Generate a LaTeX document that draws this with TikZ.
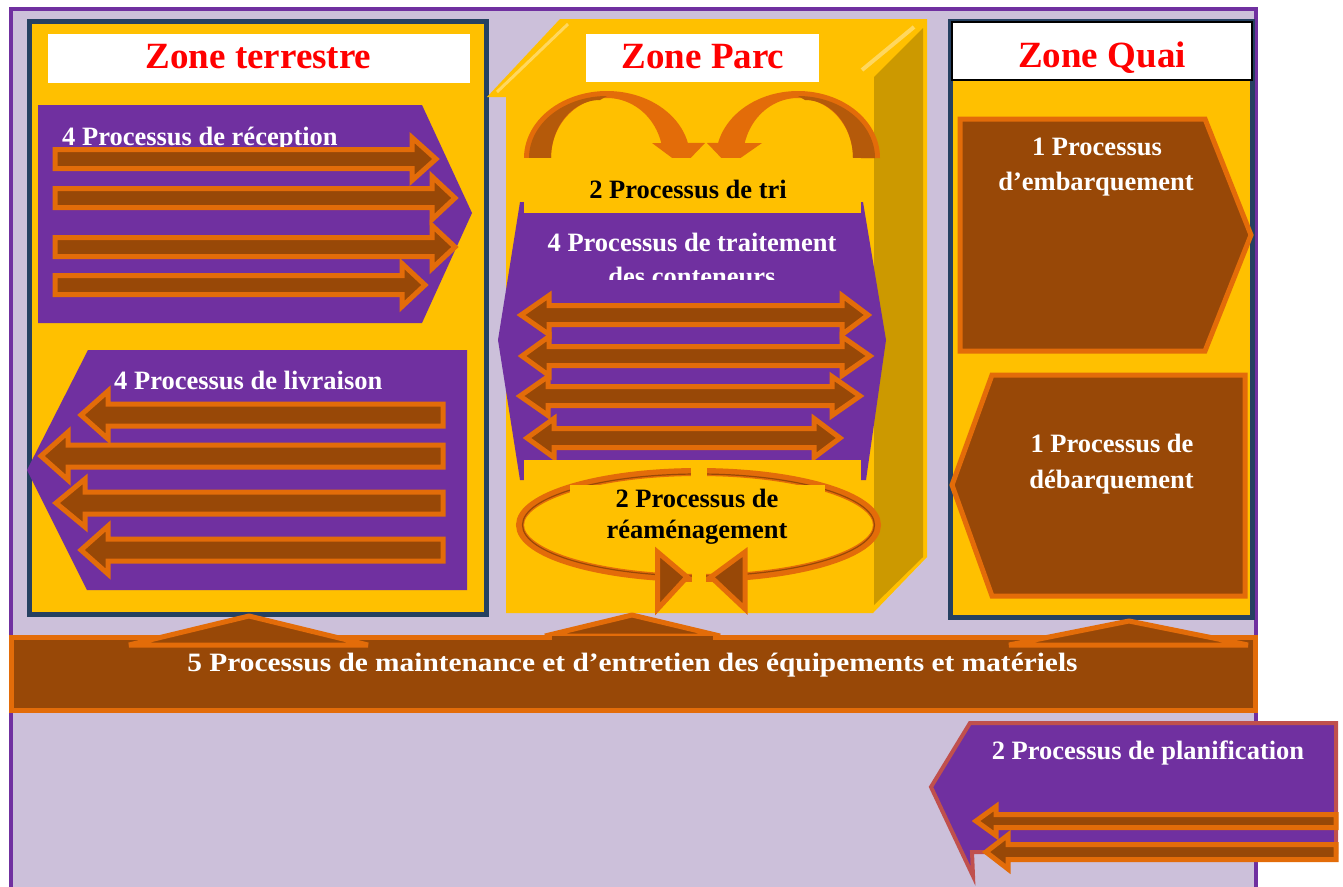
\documentclass[tikz,border=0pt]{standalone}
\usepackage{fontspec}
\setmainfont{Liberation Serif}
\definecolor{lav}{HTML}{CCC0DA}
\definecolor{pur}{HTML}{7030A0}
\definecolor{navy}{HTML}{254061}
\definecolor{gold}{HTML}{FFC000}
\definecolor{dgold}{HTML}{CC9900}
\definecolor{brn}{HTML}{984807}
\definecolor{org}{HTML}{E36C09}
\definecolor{dorg}{HTML}{B55A0A}
\definecolor{hilite}{HTML}{FFD75E}
\definecolor{redb}{HTML}{C0504D}
\tikzset{
  blk/.style={draw=org, fill=brn, line width=5pt, line join=miter},
  tab/.style={draw=org, fill=brn, line width=5pt, line join=bevel},
  ttl/.style={text=red, font=\fontsize{37}{40}\selectfont\bfseries, inner sep=0pt},
  wtxt/.style={text=white, font=\fontsize{26.5}{32}\selectfont\bfseries, inner sep=0pt},
  btxt/.style={text=black, font=\fontsize{26.5}{32}\selectfont\bfseries, inner sep=0pt},
  navybox/.style={draw=navy, fill=gold, line width=5pt},
}
% right arrow: x0, xbase, xtip, yc, shaft half, head half
\newcommand\ArrR[6]{\draw[blk] ({#1},{#4-#5}) -- ({#2},{#4-#5}) -- ({#2},{#4-#6}) -- ({#3},{#4}) -- ({#2},{#4+#6}) -- ({#2},{#4+#5}) -- ({#1},{#4+#5}) -- cycle;}
% double arrow: xtipL, xbaseL, xbaseR, xtipR, yc, shaft half, head half
\newcommand\ArrD[7]{\draw[blk] ({#1},{#5}) -- ({#2},{#5-#7}) -- ({#2},{#5-#6}) -- ({#3},{#5-#6}) -- ({#3},{#5-#7}) -- ({#4},{#5}) -- ({#3},{#5+#7}) -- ({#3},{#5+#6}) -- ({#2},{#5+#6}) -- ({#2},{#5+#7}) -- cycle;}
\begin{document}
\begin{tikzpicture}[x=1pt,y=-1pt]
\useasboundingbox (0,0) rectangle (1343,886);
\fill[white] (0,0) rectangle (1343,886);
% outer frame
\draw[draw=pur, fill=lav, line width=4pt] (10.5,8.5) rectangle (1255.5,900);

% ---------------- Zone terrestre
\draw[navybox] (29.5,21.5) rectangle (486.5,614.5);
\fill[white] (48,34) rectangle (470,83);
\node[ttl, anchor=base] (tterre) at (258.5,68) {Zone terrestre};
% reception
\fill[pur] (38,105) -- (422,105) -- (472,213) -- (422,323) -- (38,323) -- cycle;
\node[wtxt, anchor=base west] (trec) at (62,145) {4 Processus de réception};
\ArrR{55}{412}{436}{159}{9.5}{21.5}
\ArrR{55}{432}{455}{198}{9.5}{21.5}
\ArrR{55}{432}{455}{247}{9.5}{21.5}
\ArrR{55}{402}{425}{285}{9.5}{21.5}
% livraison
\fill[pur] (27,470) -- (88,350) -- (467,350) -- (467,590) -- (87,590) -- cycle;
\node[wtxt, anchor=base west] (tliv) at (114,389) {4 Processus de livraison};
\ArrR{443}{108}{81}{415}{11}{24}
\ArrR{443}{68}{41}{456}{11}{24}
\ArrR{443}{85}{56}{503}{11}{24}
\ArrR{443}{108}{81}{550}{11}{24}

% ---------------- Zone Parc (cube)
\fill[gold] (487,97) -- (560,19) -- (927,19) -- (927,557) -- (873,613) -- (506,613) -- (506,97) -- cycle;
\fill[dgold] (874,77) -- (923,28) -- (923,557) -- (874,605) -- cycle;
\draw[hilite, line width=3pt] (497,92) -- (568,24);
\draw[hilite, line width=4pt] (862,70) -- (914,27);
\fill[white] (586,34) rectangle (819,82);
\node[ttl, anchor=base] (tparc) at (703,68) {Zone Parc};
% traitement panel
\fill[pur] (520,202) -- (498,340) -- (520,480) -- (866,480) -- (886,340) -- (863,202) -- cycle;
% curved arrows (tri)
\fill[org] plot[domain=180:13,samples=50] ({607+83*cos(\x)},{158-67*sin(\x)}) -- (705,143) -- (683,166) -- (652,143) -- (661,143)
   -- plot[domain=14.5:180,samples=50] ({607+56*cos(\x)},{158-60*sin(\x)}) -- cycle;
\fill[dorg] plot[domain=180:90,samples=40] ({607+78*cos(\x)},{158-62*sin(\x)})
   -- plot[domain=90:180,samples=40] ({600+49*cos(\x)},{158-58*sin(\x)}) -- cycle;
\fill[org] plot[domain=0:167,samples=50] ({798+82*cos(\x)},{158-67*sin(\x)}) -- (707,143) -- (729,166) -- (762,143) -- (745,143)
   -- plot[domain=165.5:0,samples=50] ({798+55*cos(\x)},{158-60*sin(\x)}) -- cycle;
\fill[dorg] plot[domain=0:90,samples=40] ({798+77*cos(\x)},{158-62*sin(\x)})
   -- plot[domain=90:0,samples=40] ({805+48*cos(\x)},{158-58*sin(\x)}) -- cycle;
\fill[gold] (524,158) rectangle (861,213);
\node[btxt, anchor=base] (ttri) at (688,198) {2 Processus de tri};
\begin{scope}
  \clip (500,205) rectangle (890,279);
  \node[wtxt, anchor=base] (ttrait) at (692,251) {4 Processus de traitement};
  \node[wtxt, anchor=base] (ttrait2) at (692,285) {des conteneurs};
\end{scope}
\ArrD{521}{549}{842}{868}{315}{9.5}{19.5}
\ArrD{522}{549}{842}{870}{356}{9.5}{19.5}
\ArrD{520}{548}{832}{860}{396}{9.5}{19.5}
\ArrD{527}{554}{814}{840}{438}{9.5}{19.5}
\fill[gold] (524,460) rectangle (861,482);
% reamenagement ring
\draw[org, line width=8pt] (698.5,525) ellipse (178.5 and 53);
\draw[brn, line width=1.2pt] (698.5,525) ellipse (176 and 51);
\fill[gold] (691,460) rectangle (707,490);
\fill[gold] (692,562) rectangle (706,592);
\fill[gold] (570,485) rectangle (825,545);
\node[btxt, anchor=base] (tream1) at (697,507) {2 Processus de};
\node[btxt, anchor=base] (tream2) at (697,538) {réaménagement};
\draw[blk] (657.5,552) -- (687,577) -- (657.5,609) -- cycle;
\draw[blk] (745,552) -- (711,577) -- (745,609) -- cycle;

% ---------------- Zone Quai
\draw[navybox] (950.5,21.5) rectangle (1252,617.5);
\draw[fill=white, draw=black, line width=1.5pt] (952,22) rectangle (1252,80);
\node[ttl, anchor=base] (tquai) at (1102,67) {Zone Quai};
\draw[blk] (960,119) -- (1205,119) -- (1251,235) -- (1205,351) -- (960,351) -- cycle;
\node[wtxt, anchor=base] (temb1) at (1097,155) {1 Processus};
\node[wtxt, anchor=base] (temb2) at (1096,190) {d’embarquement};
\draw[blk] (992,375) -- (1245,375) -- (1245,596) -- (992,596) -- (952,485) -- cycle;
\node[wtxt, anchor=base] (tdeb1) at (1112,452) {1 Processus de};
\node[wtxt, anchor=base] (tdeb2) at (1111.5,488) {débarquement};

% ---------------- maintenance bar
\draw[blk] (11.5,637.5) rectangle (1255.5,710.5);
\draw[tab] (129,645) -- (249,616) -- (368,645) -- cycle;
\draw[tab] (545,636) -- (632,615) -- (720,636) -- cycle;
\fill[brn] (552,636) rectangle (713,642);
\draw[tab] (1009,645) -- (1129,621) -- (1248,645) -- cycle;
\node[wtxt, anchor=base] (tmaint) at (632.5,671) {\scalebox{1.108}[1]{5 Processus de maintenance et d’entretien des équipements et matériels}};

% ---------------- planification
\draw[draw=redb, fill=pur, line width=4pt, line join=miter] (970,723) -- (1336,723) -- (1336,852) -- (972,852) -- (973,876) -- (931,787) -- cycle;
\node[wtxt, anchor=base] (tplan) at (1148,759) {2 Processus de planification};
\ArrR{1336}{996}{976}{821}{6.5}{14.5}
\ArrR{1336}{1008}{986}{852}{7.5}{17}
\end{tikzpicture}
\end{document}
